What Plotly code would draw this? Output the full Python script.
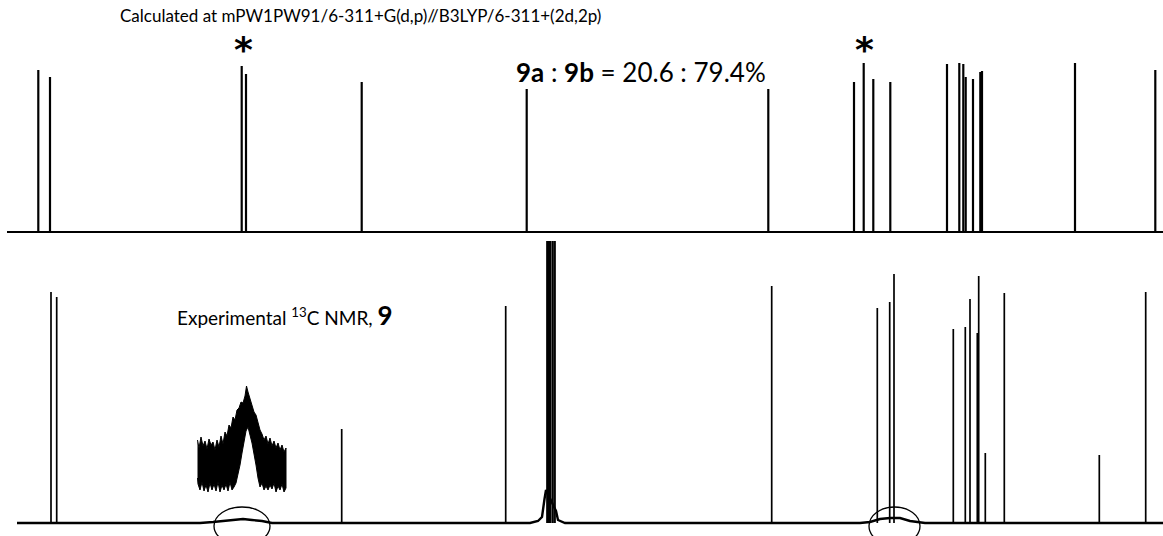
import plotly.graph_objects as go

# ---------------- data ----------------
# Calculated (top) stick spectrum: positions and relative intensities
calc_pos = [38.3, 50.0, 241.7, 246.0, 361.7, 526.7, 768.3, 854.0, 863.7, 873.3,
            890.3, 947.0, 959.3, 963.3, 965.7, 973.0, 980.3, 982.0, 1075.0, 1155.3]
calc_int = [162, 155, 166, 158, 150, 143, 143, 150, 169, 153,
            150, 168, 169, 168, 155, 153, 160, 161, 169, 162]
calc_span = [7, 1163]

# Experimental (bottom) spectrum: peak positions and intensities
exp_pos = [51.0, 56.7, 341.7, 505.7, 547.0, 547.8, 548.6, 549.4, 550.2, 552.2, 554.0, 555.0,
           771.7, 877.3, 889.7, 894.0, 953.3, 965.3, 970.0, 977.3, 978.7, 985.3,
           1004.3, 1099.3, 1145.7]
exp_int = [231, 226, 94, 217, 400, 400, 400, 400, 400, 400, 400, 400,
           237, 215, 221, 249, 194, 196, 224, 190, 247, 70,
           230, 68, 231]

# Experimental baseline profile (broad humps)
base_pos = [17, 200, 213, 225, 235, 243, 252, 262, 272, 530, 538, 542, 544.5, 546,
            556, 558, 565, 860, 870, 880, 890, 900, 910, 925, 1163]
base_int = [0, 0, 1, 2, 3, 4, 3, 2, 0, 0, 2, 6, 24, 33,
            12, 3, 0, 0, 1, 4, 5, 5, 2, 0, 0]

# Inset (expanded broad signal) envelope
inset_up_pos = [197.5, 199, 201, 203, 205, 207, 209, 211, 213, 215, 217, 219, 221, 223,
                225, 227, 229, 231, 233, 235, 237, 239, 241, 243, 245, 246.5, 248, 250,
                252, 254, 256, 258, 260, 262, 264, 266, 268, 270, 272, 274, 276, 278,
                280, 282, 284, 286]
inset_up_int = [83, 75, 86, 77, 82, 74, 84, 78, 81, 73, 83, 76, 87, 79,
                91, 87, 98, 95, 106, 103, 113, 115, 121, 120, 127, 137, 131, 125,
                118, 111, 108, 99, 93, 89, 83, 87, 79, 85, 77, 82, 75, 80,
                73, 78, 71, 75]
inset_lo_pos = [286, 284, 282, 280, 278, 276, 274, 272, 270, 268, 266, 264, 262, 260,
                258, 256, 254, 252, 250, 248, 246, 244, 242, 240, 238, 236, 234, 232,
                230, 228, 226, 224, 222, 220, 218, 216, 214, 212, 210, 208, 206, 204,
                202, 200, 198, 197.5]
inset_lo_int = [35, 31, 39, 33, 37, 31, 40, 34, 38, 33, 37, 33, 40, 36,
                45, 58, 70, 80, 88, 96, 92, 82, 70, 58, 47, 40, 36, 33,
                41, 32, 39, 33, 38, 31, 41, 32, 39, 33, 40, 31, 38, 32,
                41, 33, 39, 45]

# Marked (asterisk) calculated peaks and circled experimental regions
star_pos = [243.5, 864.0]
circle_regions = [(214, 270), (869, 920)]

title_text = "Calculated at mPW1PW91/6-311+G(d,p)//B3LYP/6-311+(2d,2p)"
ratio_text = "<b>9a</b> : <b>9b</b> = 20.6 : 79.4%"
exp_text = "Experimental <sup>13</sup>C NMR, <b><span style='font-size:26px'>9</span></b>"

# ---------------- build traces ----------------
def sticks(pos, inten):
    xs, ys = [], []
    for p, h in zip(pos, inten):
        xs += [p, p, None]
        ys += [0, h, None]
    return xs, ys

fig = go.Figure()

# top baseline
fig.add_trace(go.Scatter(x=calc_span, y=[0, 0], mode="lines",
                         line=dict(color="black", width=2.2),
                         xaxis="x", yaxis="y", hoverinfo="skip", showlegend=False))
sx, sy = sticks(calc_pos, calc_int)
fig.add_trace(go.Scatter(x=sx, y=sy, mode="lines",
                         line=dict(color="black", width=2.2),
                         xaxis="x", yaxis="y", showlegend=False))

# bottom baseline + sticks
fig.add_trace(go.Scatter(x=base_pos, y=base_int, mode="lines",
                         line=dict(color="black", width=2.4),
                         xaxis="x", yaxis="y2", hoverinfo="skip", showlegend=False))
ex, ey = sticks(exp_pos, exp_int)
fig.add_trace(go.Scatter(x=ex, y=ey, mode="lines",
                         line=dict(color="black", width=1.7),
                         xaxis="x", yaxis="y2", showlegend=False))

# inset
fig.add_trace(go.Scatter(x=inset_up_pos + inset_lo_pos,
                         y=inset_up_int + inset_lo_int,
                         mode="lines", fill="toself", fillcolor="black",
                         line=dict(color="black", width=1),
                         xaxis="x", yaxis="y2", hoverinfo="skip", showlegend=False))

W, H = 1163, 536
top_base_px, top_top_px = 236, 40
bot_top_px = 241

fig.update_layout(
    width=W, height=H,
    margin=dict(l=0, r=0, t=0, b=0),
    paper_bgcolor="white", plot_bgcolor="white",
    showlegend=False,
    xaxis=dict(range=[0, 1163], visible=False, showgrid=False, zeroline=False),
    yaxis=dict(domain=[1 - top_base_px / H, 1 - top_top_px / H],
               range=[-4, 192], visible=False, showgrid=False, zeroline=False),
    yaxis2=dict(domain=[0, 1 - bot_top_px / H], range=[-13, 282],
                visible=False, showgrid=False, zeroline=False),
    font=dict(family="Lato, 'Open Sans', sans-serif", color="black"),
)

shapes = []
for x0, x1 in circle_regions:
    shapes.append(dict(type="circle", xref="x", yref="y2", x0=x0, x1=x1, y0=-22, y1=16,
                       line=dict(color="black", width=1.3)))
fig.update_layout(shapes=shapes)

ann = [
    dict(text=title_text, x=118 / W, y=1 - 16 / H, xref="paper", yref="paper",
         xanchor="left", yanchor="middle", showarrow=False, font=dict(size=17)),
    dict(text=ratio_text, x=514 / W, y=1 - 72 / H, xref="paper", yref="paper",
         xanchor="left", yanchor="middle", showarrow=False, font=dict(size=26)),
    dict(text=exp_text, x=175 / W, y=1 - 315 / H, xref="paper", yref="paper",
         xanchor="left", yanchor="middle", showarrow=False, font=dict(size=19)),
]
for sp in star_pos:
    ann.append(dict(text="<b>*</b>", x=sp, y=1 - 50 / H, xref="x", yref="paper",
                    xanchor="center", yanchor="middle", showarrow=False,
                    font=dict(size=36, family="'DejaVu Sans', sans-serif")))
fig.update_layout(annotations=ann)

fig.write_html("out.html",
               config={"displayModeBar": False, "staticPlot": True},
               post_script="document.body.style.margin='0';document.body.style.overflow='hidden';")
